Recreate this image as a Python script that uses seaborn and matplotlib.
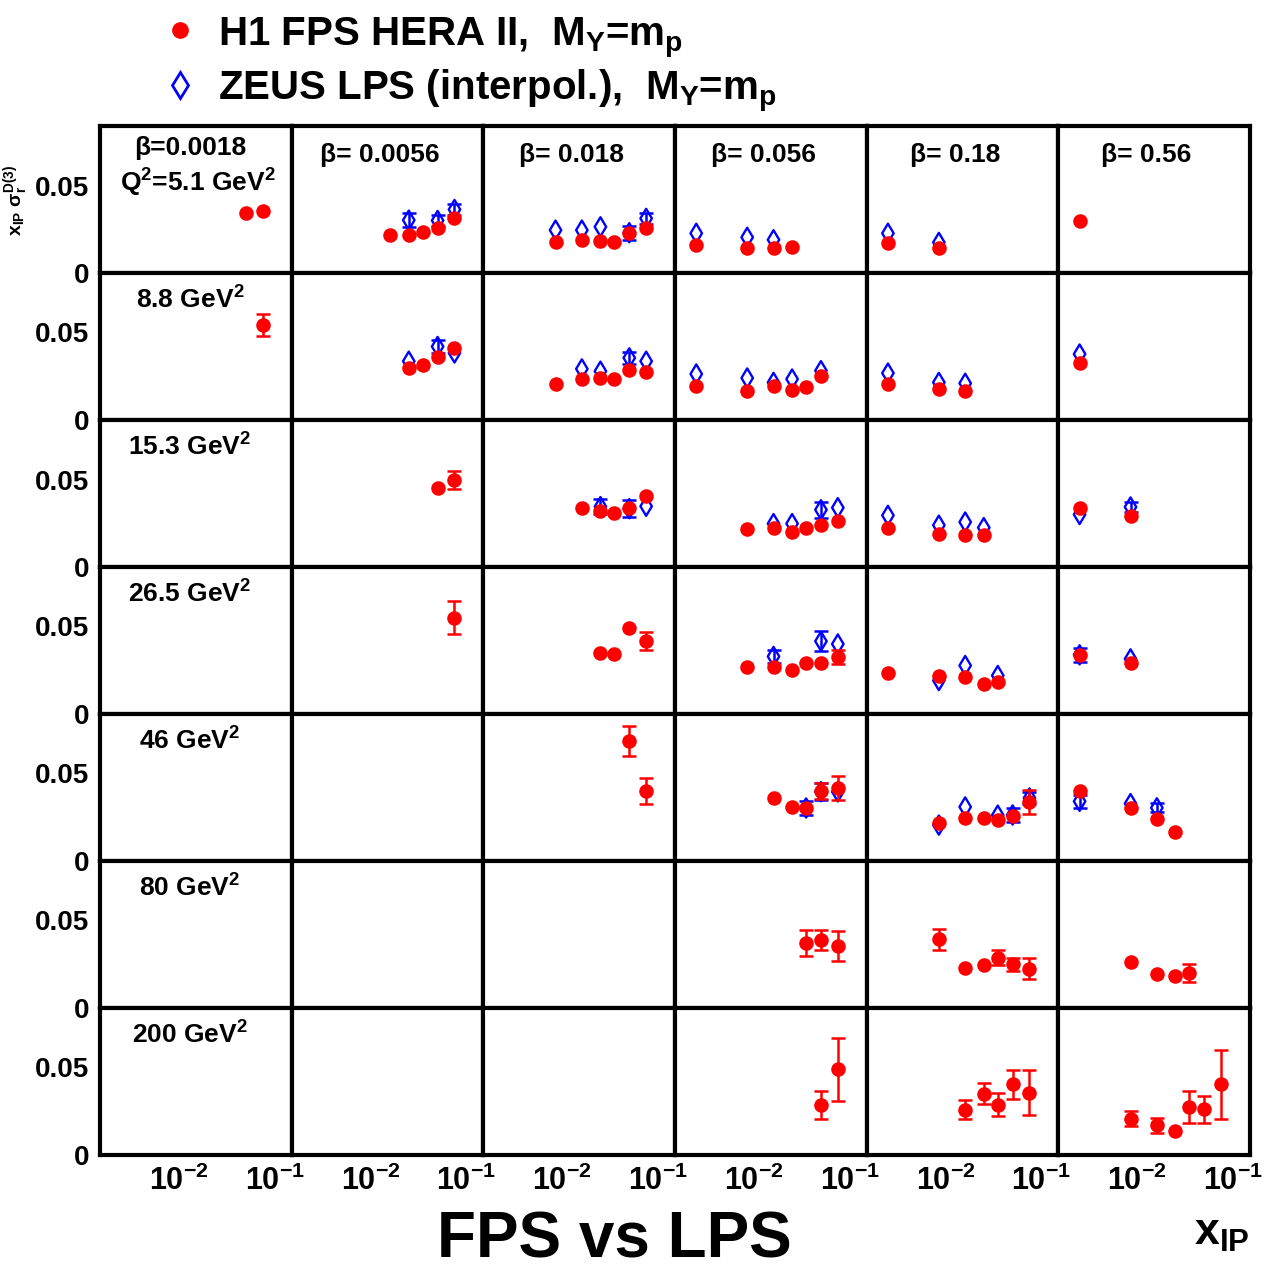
import numpy as np
import pandas as pd
import matplotlib
matplotlib.use("Agg")
import matplotlib.pyplot as plt
import seaborn as sns
from matplotlib.lines import Line2D
from matplotlib.ticker import FixedLocator, FuncFormatter, NullFormatter

# column / row labels
betas = ["0.0018", "0.0056", "0.018", "0.056", "0.18", "0.56"]
q2_bins = ["5.1", "8.8", "15.3", "26.5", "46", "80", "200"]

# H1 FPS points per Q2 bin: (beta column, x_IP, x_IP*sigma_r, error)
h1_q2_5 = [(0, 0.05, 0.0340, 0), (0, 0.075, 0.0355, 0),
           (1, 0.016, 0.0218, 0), (1, 0.025, 0.0218, 0), (1, 0.035, 0.0235, 0), (1, 0.05, 0.0258, 0), (1, 0.075, 0.0312, 0),
           (2, 0.0085, 0.0175, 0), (2, 0.016, 0.0188, 0), (2, 0.025, 0.0184, 0), (2, 0.035, 0.0175, 0), (2, 0.05, 0.0226, 0), (2, 0.075, 0.0255, 0),
           (3, 0.0025, 0.0160, 0), (3, 0.0085, 0.0143, 0), (3, 0.016, 0.0145, 0), (3, 0.025, 0.0150, 0),
           (4, 0.0025, 0.0170, 0), (4, 0.0085, 0.0141, 0),
           (5, 0.0025, 0.0299, 0)]
h1_q2_9 = [(0, 0.075, 0.0543, 0.0064),
           (1, 0.025, 0.0298, 0), (1, 0.035, 0.0315, 0), (1, 0.05, 0.0362, 0), (1, 0.075, 0.0410, 0),
           (2, 0.0085, 0.0206, 0), (2, 0.016, 0.0233, 0), (2, 0.025, 0.0241, 0), (2, 0.035, 0.0235, 0), (2, 0.05, 0.0286, 0), (2, 0.075, 0.0277, 0),
           (3, 0.0025, 0.0193, 0), (3, 0.0085, 0.0168, 0), (3, 0.016, 0.0193, 0), (3, 0.025, 0.0172, 0), (3, 0.035, 0.0187, 0), (3, 0.05, 0.0250, 0),
           (4, 0.0025, 0.0203, 0), (4, 0.0085, 0.0177, 0), (4, 0.016, 0.0163, 0),
           (5, 0.0025, 0.0326, 0)]
h1_q2_15 = [(1, 0.05, 0.0453, 0), (1, 0.075, 0.0498, 0.0050),
            (2, 0.016, 0.0337, 0), (2, 0.025, 0.0318, 0), (2, 0.035, 0.0310, 0), (2, 0.05, 0.0339, 0), (2, 0.075, 0.0407, 0),
            (3, 0.0085, 0.0216, 0), (3, 0.016, 0.0220, 0), (3, 0.025, 0.0201, 0), (3, 0.035, 0.0220, 0), (3, 0.05, 0.0240, 0), (3, 0.075, 0.0261, 0),
            (4, 0.0025, 0.0220, 0), (4, 0.0085, 0.0191, 0), (4, 0.016, 0.0182, 0), (4, 0.025, 0.0182, 0),
            (5, 0.0025, 0.0337, 0), (5, 0.0085, 0.0294, 0)]
h1_q2_26 = [(1, 0.075, 0.0551, 0.0093),
            (2, 0.025, 0.0346, 0), (2, 0.035, 0.0340, 0), (2, 0.05, 0.0490, 0), (2, 0.075, 0.0417, 0.0050),
            (3, 0.0085, 0.0268, 0), (3, 0.016, 0.0268, 0), (3, 0.025, 0.0249, 0), (3, 0.035, 0.0290, 0), (3, 0.05, 0.0292, 0), (3, 0.075, 0.0325, 0.0040),
            (4, 0.0025, 0.0233, 0), (4, 0.0085, 0.0216, 0), (4, 0.016, 0.0214, 0), (4, 0.025, 0.0169, 0), (4, 0.035, 0.0182, 0),
            (5, 0.0025, 0.0338, 0), (5, 0.0085, 0.0292, 0)]
h1_q2_46 = [(2, 0.05, 0.0685, 0.0084), (2, 0.075, 0.0400, 0.0077),
            (3, 0.016, 0.0360, 0), (3, 0.025, 0.0307, 0), (3, 0.035, 0.0303, 0), (3, 0.05, 0.0400, 0.0045), (3, 0.075, 0.0418, 0.0068),
            (4, 0.0085, 0.0218, 0), (4, 0.016, 0.0248, 0), (4, 0.025, 0.0246, 0), (4, 0.035, 0.0237, 0), (4, 0.05, 0.0256, 0), (4, 0.075, 0.0339, 0.0068),
            (5, 0.0025, 0.0400, 0), (5, 0.0085, 0.0303, 0), (5, 0.016, 0.0239, 0), (5, 0.025, 0.0167, 0)]
h1_q2_80 = [(3, 0.035, 0.0372, 0.0073), (3, 0.05, 0.0387, 0.0058), (3, 0.075, 0.0353, 0.0086),
            (4, 0.0085, 0.0393, 0.0061), (4, 0.016, 0.0228, 0), (4, 0.025, 0.0244, 0), (4, 0.035, 0.0288, 0.0041), (4, 0.05, 0.0250, 0.0038), (4, 0.075, 0.0225, 0.0060),
            (5, 0.0085, 0.0263, 0), (5, 0.016, 0.0192, 0), (5, 0.025, 0.0181, 0), (5, 0.035, 0.0200, 0.0050)]
h1_q2_200 = [(3, 0.05, 0.0284, 0.0081), (3, 0.075, 0.0489, 0.0180),
             (4, 0.016, 0.0259, 0.0053), (4, 0.025, 0.0351, 0.0060), (4, 0.035, 0.0288, 0.0066), (4, 0.05, 0.0404, 0.0083), (4, 0.075, 0.0357, 0.0126),
             (5, 0.0085, 0.0207, 0.0042), (5, 0.016, 0.0171, 0.0043), (5, 0.025, 0.0137, 0), (5, 0.035, 0.0274, 0.0092), (5, 0.05, 0.0261, 0.0076), (5, 0.075, 0.0404, 0.0196)]

# ZEUS LPS (interpolated) per Q2 bin: (beta column, x_IP, value, error)
zeus_q2_5 = [(1, 0.025, 0.0302, 0.0041), (1, 0.05, 0.0300, 0.0030), (1, 0.075, 0.0363, 0.0030),
             (2, 0.0085, 0.0245, 0), (2, 0.016, 0.0245, 0), (2, 0.025, 0.0264, 0), (2, 0.05, 0.0230, 0.0040), (2, 0.075, 0.0312, 0.0030),
             (3, 0.0025, 0.0227, 0), (3, 0.0085, 0.0204, 0), (3, 0.016, 0.0190, 0),
             (4, 0.0025, 0.0227, 0), (4, 0.0085, 0.0175, 0)]
zeus_q2_9 = [(1, 0.025, 0.0336, 0), (1, 0.05, 0.0420, 0.0035), (1, 0.075, 0.0383, 0),
             (2, 0.016, 0.0292, 0), (2, 0.025, 0.0279, 0), (2, 0.05, 0.0355, 0.0035), (2, 0.075, 0.0336, 0),
             (3, 0.0025, 0.0263, 0), (3, 0.0085, 0.0240, 0), (3, 0.016, 0.0215, 0), (3, 0.025, 0.0234, 0), (3, 0.05, 0.0282, 0),
             (4, 0.0025, 0.0268, 0), (4, 0.0085, 0.0215, 0), (4, 0.016, 0.0210, 0),
             (5, 0.0025, 0.0377, 0)]
zeus_q2_15 = [(2, 0.025, 0.0345, 0.0045), (2, 0.05, 0.0333, 0.0047), (2, 0.075, 0.0347, 0),
              (3, 0.016, 0.0248, 0), (3, 0.025, 0.0248, 0), (3, 0.05, 0.0327, 0.0047), (3, 0.075, 0.0339, 0),
              (4, 0.0025, 0.0295, 0), (4, 0.0085, 0.0239, 0), (4, 0.016, 0.0257, 0), (4, 0.025, 0.0225, 0),
              (5, 0.0025, 0.0300, 0), (5, 0.0085, 0.0343, 0.0030)]
zeus_q2_26 = [(3, 0.016, 0.0329, 0.0035), (3, 0.05, 0.0416, 0.0057), (3, 0.075, 0.0400, 0),
              (4, 0.0085, 0.0191, 0), (4, 0.016, 0.0277, 0), (4, 0.035, 0.0220, 0),
              (5, 0.0025, 0.0338, 0.0041), (5, 0.0085, 0.0315, 0)]
zeus_q2_46 = [(3, 0.035, 0.0303, 0.0041), (3, 0.05, 0.0396, 0.0050), (3, 0.075, 0.0395, 0),
              (4, 0.0085, 0.0205, 0), (4, 0.016, 0.0309, 0), (4, 0.035, 0.0262, 0), (4, 0.05, 0.0263, 0.0040), (4, 0.075, 0.0360, 0.0035),
              (5, 0.0025, 0.0341, 0.0038), (5, 0.0085, 0.0328, 0), (5, 0.016, 0.0304, 0.0025)]

h1_rows = [h1_q2_5, h1_q2_9, h1_q2_15, h1_q2_26, h1_q2_46, h1_q2_80, h1_q2_200]
zeus_rows = [zeus_q2_5, zeus_q2_9, zeus_q2_15, zeus_q2_26, zeus_q2_46, [], []]


def to_frame(rows):
    recs = [(r, c, x, y, e) for r, pts in enumerate(rows) for (c, x, y, e) in pts]
    return pd.DataFrame(recs, columns=["row", "col", "xpom", "val", "err"])


h1 = to_frame(h1_rows)
zeus = to_frame(zeus_rows)

RED = "#ff0000"
BLUE = "#0000ff"

sns.set_style("white")
plt.rcParams["font.family"] = ["Liberation Sans", "DejaVu Sans"]
plt.rcParams["font.weight"] = "bold"
plt.rcParams["text.color"] = "black"
plt.rcParams["xtick.color"] = "black"
plt.rcParams["ytick.color"] = "black"
plt.rcParams["axes.unicode_minus"] = False
plt.rcParams["mathtext.fontset"] = "custom"
plt.rcParams["mathtext.rm"] = "Liberation Sans:bold"
plt.rcParams["mathtext.it"] = "Liberation Sans:bold"
plt.rcParams["mathtext.bf"] = "Liberation Sans:bold"
plt.rcParams["mathtext.default"] = "rm"

W, H = 1272, 1271
fig = plt.figure(figsize=(W / 100, H / 100), dpi=100)
axes = fig.subplots(7, 6, sharex=True, sharey=True,
                    gridspec_kw=dict(wspace=0, hspace=0))
fig.subplots_adjust(left=100 / W, right=1250 / W, bottom=1 - 1155 / H, top=1 - 126 / H)

for r in range(7):
    for c in range(6):
        ax = axes[r, c]
        ax.set_xscale("log")
        ax.set_xlim(0.0015, 0.15)
        ax.set_ylim(0, 0.084)

        z = zeus[(zeus.row == r) & (zeus.col == c)]
        h = h1[(h1.row == r) & (h1.col == c)]

        zb = z[z.err > 0]
        if len(zb):
            ax.errorbar(zb.xpom, zb.val, yerr=zb.err, fmt="none", ecolor=BLUE,
                        elinewidth=1.8, capsize=5, capthick=1.8, zorder=2)
        if len(z):
            sns.scatterplot(data=z, x="xpom", y="val", marker="d", s=95,
                            facecolor="none", edgecolor=BLUE, linewidth=1.7,
                            ax=ax, zorder=3, legend=False)
        hb = h[h.err > 0]
        if len(hb):
            ax.errorbar(hb.xpom, hb.val, yerr=hb.err, fmt="none", ecolor=RED,
                        elinewidth=1.8, capsize=5, capthick=1.8, zorder=4)
        if len(h):
            sns.scatterplot(data=h, x="xpom", y="val", marker="o", s=110,
                            color=RED, edgecolor=RED, linewidth=0,
                            ax=ax, zorder=5, legend=False)
        ax.set_xlabel("")
        ax.set_ylabel("")

        ax.xaxis.set_major_locator(FixedLocator([0.01, 0.1]))
        ax.xaxis.set_minor_locator(FixedLocator([0.005, 0.05]))
        ax.xaxis.set_minor_formatter(NullFormatter())
        ax.xaxis.set_major_formatter(FuncFormatter(
            lambda v, p: r"10$^{%d}$" % int(round(np.log10(v)))))
        ax.yaxis.set_major_locator(FixedLocator([0, 0.05]))
        ax.yaxis.set_minor_locator(FixedLocator([0.01, 0.02, 0.03, 0.04, 0.06, 0.07, 0.08]))
        ax.yaxis.set_major_formatter(FuncFormatter(lambda v, p: "0" if v == 0 else "%g" % v))

        ax.tick_params(which="both", direction="in", top=False, right=False,
                       width=1.0, color="#333333", labelcolor="black")
        ax.tick_params(which="major", length=12)
        ax.tick_params(which="minor", length=6)
        ax.tick_params(axis="y", labelsize=20, pad=8)
        ax.tick_params(axis="x", labelsize=22, pad=8)
        for sp in ax.spines.values():
            sp.set_linewidth(3)
            sp.set_color("black")

# panel annotations
lab = dict(fontsize=19, fontweight="bold", ha="center", va="baseline", color="black")
axes[0, 0].text(0.47, 0.80, "β=0.0018", transform=axes[0, 0].transAxes, **lab)
axes[0, 0].text(0.51, 0.555, r"Q$^2$=5.1 GeV$^2$", transform=axes[0, 0].transAxes, **lab)
for c in range(1, 6):
    axes[0, c].text(0.46, 0.757, "β= " + betas[c], transform=axes[0, c].transAxes, **lab)
for r in range(1, 7):
    axes[r, 0].text(0.47, 0.755, q2_bins[r] + r" GeV$^2$", transform=axes[r, 0].transAxes, **lab)

# legend at the top
fig.add_artist(Line2D([180 / W], [1 - 30 / H], marker="o", ls="none", color=RED,
                      markersize=11, transform=fig.transFigure))
fig.add_artist(Line2D([180 / W], [1 - 85 / H], marker="d", ls="none", mfc="none",
                      mec=BLUE, mew=2, markersize=13, transform=fig.transFigure))
fig.text(218 / W, 1 - 45 / H, r"H1 FPS HERA II,  M$_Y$=m$_p$", fontsize=29,
         fontweight="bold", va="baseline")
fig.text(218 / W, 1 - 100 / H, r"ZEUS LPS (interpol.),  M$_Y$=m$_p$", fontsize=29,
         fontweight="bold", va="baseline")

# axis titles
fig.text(1 / W, 1 - 200 / H, r"x$_{IP}$ σ$_r^{D(3)}$", rotation=90, fontsize=14,
         fontweight="bold", ha="left", va="center")
fig.text(1222 / W, 1 - 1234 / H, r"x$_{IP}$", fontsize=32, fontweight="bold",
         ha="center", va="center")
fig.text(614 / W, 1 - 1241 / H, "FPS vs LPS", fontsize=46, fontweight="bold",
         ha="center", va="center")

fig.savefig("out.png", dpi=100)
